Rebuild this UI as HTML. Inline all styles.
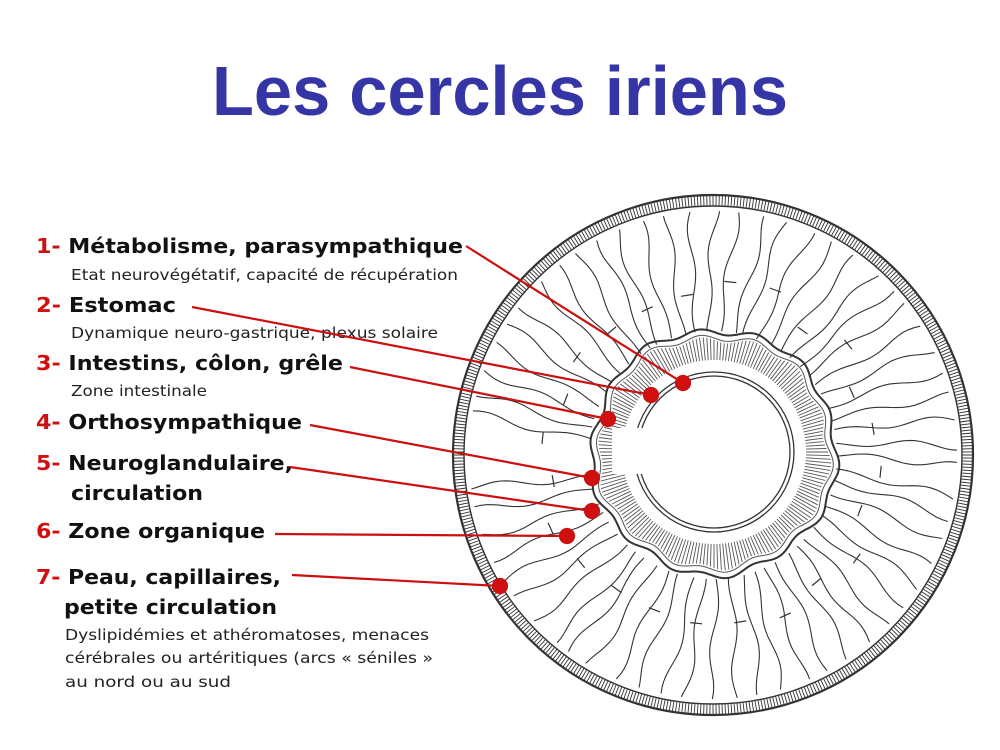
<!DOCTYPE html>
<html><head><meta charset="utf-8"><style>
html,body{margin:0;padding:0;background:#fff;}
svg{display:block;}
.b{font-family:"DejaVu Sans","Liberation Sans",sans-serif;font-weight:bold;font-size:20px;fill:#111;}
.n{fill:#d01010;}
.s{font-family:"DejaVu Sans","Liberation Sans",sans-serif;font-size:15px;fill:#222;}
</style></head><body>
<svg id="s" width="1000" height="750" viewBox="0 0 1000 750" xmlns="http://www.w3.org/2000/svg">
<text x="212" y="115" textLength="576" lengthAdjust="spacingAndGlyphs" style="font-family:'Liberation Sans',sans-serif;font-weight:bold;font-size:70px;fill:#3535a5">Les cercles iriens</text>
<g id="iris" fill="none" stroke="#333"></g>
<text class="b" x="36" y="253" textLength="427" lengthAdjust="spacingAndGlyphs"><tspan class="n">1-</tspan> Métabolisme, parasympathique</text>
<text class="s" x="71" y="280" textLength="387" lengthAdjust="spacingAndGlyphs">Etat neurovégétatif, capacité de récupération</text>
<text class="b" x="36" y="312" textLength="140" lengthAdjust="spacingAndGlyphs"><tspan class="n">2-</tspan> Estomac</text>
<text class="s" x="71" y="338" textLength="367" lengthAdjust="spacingAndGlyphs">Dynamique neuro-gastrique, plexus solaire</text>
<text class="b" x="36" y="370" textLength="307" lengthAdjust="spacingAndGlyphs"><tspan class="n">3-</tspan> Intestins, côlon, grêle</text>
<text class="s" x="71" y="396" textLength="136" lengthAdjust="spacingAndGlyphs">Zone intestinale</text>
<text class="b" x="36" y="429" textLength="266" lengthAdjust="spacingAndGlyphs"><tspan class="n">4-</tspan> Orthosympathique</text>
<text class="b" x="36" y="470" textLength="257" lengthAdjust="spacingAndGlyphs"><tspan class="n">5-</tspan> Neuroglandulaire,</text>
<text class="b" x="71" y="500" textLength="132" lengthAdjust="spacingAndGlyphs">circulation</text>
<text class="b" x="36" y="538" textLength="229" lengthAdjust="spacingAndGlyphs"><tspan class="n">6-</tspan> Zone organique</text>
<text class="b" x="36" y="584" textLength="245" lengthAdjust="spacingAndGlyphs"><tspan class="n">7-</tspan> Peau, capillaires,</text>
<text class="b" x="64" y="614" textLength="213" lengthAdjust="spacingAndGlyphs">petite circulation</text>
<text class="s" x="65" y="640" textLength="364" lengthAdjust="spacingAndGlyphs">Dyslipidémies et athéromatoses, menaces</text>
<text class="s" x="65" y="663" textLength="368" lengthAdjust="spacingAndGlyphs">cérébrales ou artéritiques (arcs « séniles »</text>
<text class="s" x="65" y="687" textLength="166" lengthAdjust="spacingAndGlyphs">au nord ou au sud</text>
<g stroke="#cc1010" stroke-width="2.2" fill="#d01010">
<line x1="466" y1="246" x2="683" y2="383"/><circle cx="683" cy="383" r="7"/>
<line x1="192" y1="307" x2="651" y2="395"/><circle cx="651" cy="395" r="7"/>
<line x1="350" y1="367" x2="608" y2="419"/><circle cx="608" cy="419" r="7"/>
<line x1="310" y1="425" x2="592" y2="478"/><circle cx="592" cy="478" r="7"/>
<line x1="290" y1="467" x2="592" y2="511"/><circle cx="592" cy="511" r="7"/>
<line x1="275" y1="534" x2="567" y2="536"/><circle cx="567" cy="536" r="7"/>
<line x1="292" y1="575" x2="500" y2="586"/><circle cx="500" cy="586" r="7"/>
</g>
</svg>
<script>
(function(){
var g=document.getElementById('iris'),NS='http://www.w3.org/2000/svg';
var cx=713,cy=455,pcx=714,pcy=452;
function el(t,a){var e=document.createElementNS(NS,t);for(var k in a)e.setAttribute(k,a[k]);g.insertBefore(e,null);return e;}
var seed=7;function rnd(){seed=(seed*16807)%2147483647;return seed/2147483647;}
el('circle',{cx:cx,cy:cy,r:260,'stroke-width':2.2});
el('circle',{cx:cx,cy:cy,r:249,'stroke-width':1.4});
var d='';
for(var i=0;i<520;i++){var a=i/520*2*Math.PI,c=Math.cos(a),s=Math.sin(a);
d+='M'+(cx+249*c).toFixed(1)+' '+(cy+249*s).toFixed(1)+'L'+(cx+260*c).toFixed(1)+' '+(cy+260*s).toFixed(1);}
el('path',{d:d,'stroke-width':0.9,stroke:'#333'});
d='';
for(var i=0;i<62;i++){var a0=i/62*2*Math.PI+rnd()*0.03;
 if(a0>Math.PI*0.95&&a0<Math.PI*1.03)continue;
 var r0=124,p='';
 for(var r=r0;r<=249;r+=6){var a=a0+0.018*Math.sin(r/14+i*1.7)+(r-r0)*0.0004;
  var x=cx+r*Math.cos(a),y=cy+r*Math.sin(a);p+=(r==r0?'M':'L')+x.toFixed(1)+' '+y.toFixed(1);}
 d+=p;}
el('path',{d:d,'stroke-width':1.1,stroke:'#333'});
el('circle',{cx:pcx,cy:pcy,r:76,'stroke-width':1.3});
el('circle',{cx:pcx,cy:pcy,r:80,'stroke-width':1.3});
var p='';
for(var i=0;i<=360;i++){var a=i/360*2*Math.PI;var r=122+3*Math.sin(a*14)+2*Math.sin(a*5);
 p+=(i?'L':'M')+(pcx+r*Math.cos(a)).toFixed(1)+' '+(pcy+r*Math.sin(a)).toFixed(1);}
el('path',{d:p,'stroke-width':2,stroke:'#333'});
p='';
for(var i=0;i<=360;i++){var a=i/360*2*Math.PI;var r=116+3*Math.sin(a*14)+2*Math.sin(a*5);
 p+=(i?'L':'M')+(pcx+r*Math.cos(a)).toFixed(1)+' '+(pcy+r*Math.sin(a)).toFixed(1);}
el('path',{d:p,'stroke-width':1,stroke:'#555'});
d='';
for(var i=0;i<200;i++){var a=i/200*2*Math.PI;var c=Math.cos(a),s=Math.sin(a);
 var r2=114+3*Math.sin(a*14)+2*Math.sin(a*5);
 d+='M'+(pcx+92*c).toFixed(1)+' '+(pcy+92*s).toFixed(1)+'L'+(pcx+r2*c).toFixed(1)+' '+(pcy+r2*s).toFixed(1);}
el('path',{d:d,'stroke-width':0.9,stroke:'#555'});
el('rect',{x:612,y:428,width:46,height:46,fill:'#fff',stroke:'none'});
d='';
for(var i=0;i<24;i++){var a=i/24*2*Math.PI+0.1,r=150+rnd()*30;var c=Math.cos(a),s=Math.sin(a);
 d+='M'+(cx+r*c-6*s).toFixed(1)+' '+(cy+r*s+6*c).toFixed(1)+'L'+(cx+r*c+6*s).toFixed(1)+' '+(cy+r*s-6*c).toFixed(1);}
el('path',{d:d,'stroke-width':1.2,stroke:'#333'});
})();
</script>
</body></html>
